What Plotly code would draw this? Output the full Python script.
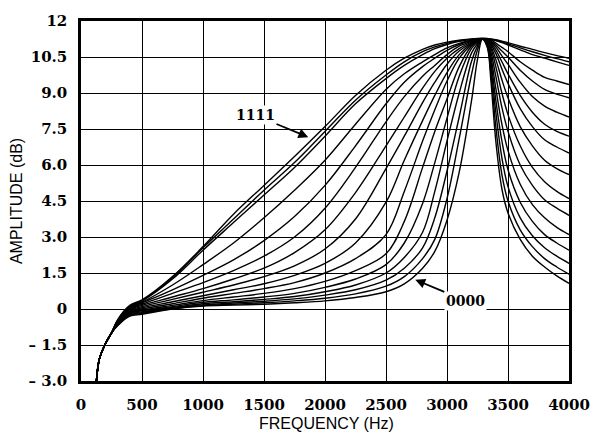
import plotly.graph_objects as go

# Frequency grid (Hz) shared by all response curves
freq_hz = [125, 150, 200, 250, 300, 400, 500, 750, 1000, 1250, 1500, 1750, 2000, 2250,
           2500, 2650, 2800, 2900, 3000, 3100, 3200, 3250, 3290, 3330, 3360, 3400, 3450,
           3500, 3600, 3700, 3800, 3900, 4000]

# Amplitude (dB) for each of the 16 filter codes
db_0000 = [-3.1, -2.1, -1.45, -1.0, -0.70, -0.30, -0.22, 0.0, 0.12, 0.16, 0.2, 0.26, 0.34, 0.48, 0.72, 1.05, 1.7, 2.4, 3.7, 5.7, 8.65, 10.4, 11.25, 10.9, 9.5, 7.0, 5.0, 4.0, 2.9, 2.2, 1.75, 1.38, 1.07]
db_0001 = [-3.1, -2.1, -1.45, -1.0, -0.68, -0.27, -0.18, 0.01, 0.14, 0.2, 0.26, 0.34, 0.45, 0.63, 0.95, 1.35, 2.1, 2.9, 4.6, 7.1, 9.75, 10.8, 11.25, 10.95, 9.8, 7.6, 5.6, 4.5, 3.3, 2.6, 2.1, 1.75, 1.45]
db_0010 = [-3.1, -2.1, -1.45, -1.0, -0.67, -0.24, -0.15, 0.03, 0.17, 0.25, 0.32, 0.42, 0.58, 0.8, 1.2, 1.7, 2.55, 3.8, 5.75, 8.0, 10.3, 10.95, 11.25, 11.0, 10.05, 8.2, 6.3, 5.1, 3.8, 3.05, 2.55, 2.2, 1.9]
db_0011 = [-3.1, -2.1, -1.45, -1.0, -0.65, -0.21, -0.12, 0.06, 0.22, 0.3, 0.4, 0.52, 0.72, 1.0, 1.5, 2.15, 3.2, 4.9, 7.0, 9.0, 10.65, 11.05, 11.25, 11.05, 10.3, 8.7, 7.0, 5.8, 4.45, 3.65, 3.1, 2.75, 2.45]
db_0100 = [-3.1, -2.1, -1.45, -1.0, -0.63, -0.18, -0.08, 0.1, 0.28, 0.38, 0.5, 0.65, 0.9, 1.25, 1.85, 2.75, 4.4, 6.1, 7.95, 9.7, 10.85, 11.12, 11.25, 11.1, 10.5, 9.2, 7.7, 6.6, 5.2, 4.35, 3.8, 3.4, 3.1]
db_0101 = [-3.1, -2.1, -1.45, -1.0, -0.62, -0.15, -0.05, 0.15, 0.35, 0.5, 0.65, 0.85, 1.15, 1.6, 2.3, 3.65, 5.9, 7.4, 8.75, 10.1, 10.95, 11.15, 11.25, 11.12, 10.7, 9.7, 8.4, 7.4, 6.0, 5.15, 4.55, 4.2, 3.9]
db_0110 = [-3.1, -2.1, -1.45, -1.0, -0.60, -0.12, 0.0, 0.22, 0.45, 0.65, 0.85, 1.1, 1.5, 2.1, 3.1, 4.9, 7.0, 8.3, 9.5, 10.45, 11.0, 11.15, 11.25, 11.15, 10.85, 10.1, 9.0, 8.1, 6.8, 5.9, 5.3, 4.9, 4.6]
db_0111 = [-3.1, -2.1, -1.45, -1.0, -0.58, -0.09, 0.05, 0.3, 0.55, 0.8, 1.05, 1.4, 1.9, 2.75, 4.45, 6.2, 7.85, 8.9, 9.85, 10.6, 11.05, 11.17, 11.25, 11.18, 10.95, 10.4, 9.55, 8.8, 7.6, 6.8, 6.2, 5.85, 5.6]
db_1000 = [-3.1, -2.1, -1.45, -1.0, -0.57, -0.06, 0.1, 0.4, 0.7, 1.0, 1.35, 1.8, 2.5, 3.75, 5.85, 7.2, 8.6, 9.45, 10.2, 10.75, 11.08, 11.18, 11.25, 11.2, 11.02, 10.65, 10.0, 9.4, 8.35, 7.6, 7.05, 6.75, 6.5]
db_1001 = [-3.1, -2.1, -1.45, -1.0, -0.55, -0.03, 0.15, 0.5, 0.85, 1.25, 1.7, 2.35, 3.3, 4.85, 6.8, 8.0, 9.2, 9.9, 10.45, 10.85, 11.12, 11.2, 11.25, 11.22, 11.08, 10.8, 10.3, 9.8, 8.9, 8.2, 7.7, 7.4, 7.2]
db_1010 = [-3.1, -2.1, -1.45, -1.0, -0.53, 0.0, 0.2, 0.65, 1.1, 1.6, 2.2, 3.0, 4.2, 5.9, 7.8, 8.85, 9.7, 10.15, 10.6, 10.95, 11.15, 11.22, 11.26, 11.23, 11.12, 10.92, 10.55, 10.2, 9.45, 8.85, 8.45, 8.2, 8.0]
db_1011 = [-3.1, -2.1, -1.45, -1.0, -0.52, 0.03, 0.25, 0.8, 1.4, 2.05, 2.85, 3.85, 5.15, 6.8, 8.55, 9.45, 10.1, 10.45, 10.78, 11.02, 11.18, 11.23, 11.26, 11.24, 11.16, 11.0, 10.75, 10.5, 9.95, 9.5, 9.15, 8.95, 8.8]
db_1100 = [-3.1, -2.1, -1.45, -1.0, -0.50, 0.06, 0.28, 1.0, 1.85, 2.75, 3.8, 4.95, 6.2, 7.7, 9.15, 9.8, 10.3, 10.6, 10.88, 11.07, 11.2, 11.24, 11.26, 11.25, 11.2, 11.08, 10.9, 10.72, 10.3, 9.95, 9.65, 9.5, 9.35]
db_1101 = [-3.1, -2.1, -1.45, -1.0, -0.48, 0.09, 0.33, 1.25, 2.45, 3.6, 4.75, 5.9, 7.2, 8.55, 9.6, 10.15, 10.6, 10.85, 11.02, 11.15, 11.23, 11.26, 11.27, 11.26, 11.23, 11.18, 11.1, 11.0, 10.8, 10.6, 10.45, 10.3, 10.15]
db_1110 = [-3.1, -2.1, -1.45, -1.0, -0.47, 0.12, 0.35, 1.3, 2.55, 3.75, 4.95, 6.1, 7.4, 8.7, 9.75, 10.3, 10.72, 10.92, 11.07, 11.18, 11.24, 11.26, 11.27, 11.26, 11.24, 11.2, 11.13, 11.05, 10.88, 10.72, 10.57, 10.43, 10.3]
db_1111 = [-3.1, -2.1, -1.45, -1.0, -0.45, 0.15, 0.38, 1.35, 2.6, 3.95, 5.15, 6.35, 7.6, 8.9, 9.95, 10.45, 10.82, 11.0, 11.12, 11.2, 11.25, 11.27, 11.27, 11.27, 11.25, 11.22, 11.16, 11.1, 10.95, 10.82, 10.68, 10.56, 10.45]

curve_codes = ["0000", "0001", "0010", "0011", "0100", "0101", "0110", "0111",
               "1000", "1001", "1010", "1011", "1100", "1101", "1110", "1111"]
curve_values = [db_0000, db_0001, db_0010, db_0011, db_0100, db_0101, db_0110, db_0111,
                db_1000, db_1001, db_1010, db_1011, db_1100, db_1101, db_1110, db_1111]

x_ticks = [0, 500, 1000, 1500, 2000, 2500, 3000, 3500, 4000]
x_tick_text = ["0", "500", "1000", "1500", "2000", "2500", "3000", "3500", "4000"]
y_ticks = [-3, -1.5, 0, 1.5, 3, 4.5, 6, 7.5, 9, 10.5, 12]
y_tick_text = ["\u2013 3.0", "\u2013 1.5", "0", "1.5", "3.0", "4.5", "6.0", "7.5", "9.0", "10.5", "12"]

fig = go.Figure()
for code, vals in zip(curve_codes, curve_values):
    fig.add_trace(go.Scatter(
        x=freq_hz, y=vals, mode="lines", name=code,
        line=dict(color="black", width=1.4, shape="spline", smoothing=1.0),
        hoverinfo="skip"))

tick_font = dict(family="DejaVu Serif", size=15, color="black", weight="bold")
axis_common = dict(
    showgrid=True, gridcolor="black", gridwidth=1.3,
    showline=True, linecolor="black", linewidth=2.5, mirror=True,
    zeroline=False, ticks="", tickfont=tick_font, ticklabelstandoff=8)

fig.update_xaxes(range=[0, 4000], tickvals=x_ticks, ticktext=x_tick_text, **axis_common)
fig.update_yaxes(range=[-3, 12], tickvals=y_ticks, ticktext=y_tick_text, **axis_common)

title_font = dict(family="Liberation Sans", size=16, color="black")
fig.add_annotation(text="FREQUENCY (Hz)", xref="paper", yref="paper", x=0.504, y=-0.118,
                   showarrow=False, font=title_font, xanchor="center", yanchor="middle")
fig.add_annotation(text="AMPLITUDE (dB)", xref="paper", yref="paper", x=-0.133, y=0.5,
                   showarrow=False, font=title_font, textangle=-90,
                   xanchor="center", yanchor="middle")

label_font = dict(family="DejaVu Serif", size=14, color="black", weight="bold")
fig.add_annotation(text="1111", x=1863, y=7.16, ax=1430, ay=8.07, axref="x", ayref="y",
                   showarrow=True, arrowhead=2, arrowsize=1.1, arrowwidth=1.8,
                   arrowcolor="black", font=label_font, bgcolor="white", borderpad=1)
fig.add_annotation(text="0000", x=2740, y=1.22, ax=3150, ay=0.35, axref="x", ayref="y",
                   showarrow=True, arrowhead=2, arrowsize=1.1, arrowwidth=1.8,
                   arrowcolor="black", font=label_font, bgcolor="white", borderpad=1)

fig.update_layout(width=602, height=438, margin=dict(l=81, r=23, t=15, b=57),
                  plot_bgcolor="white", paper_bgcolor="white", showlegend=False)

fig.write_html("out.html")
